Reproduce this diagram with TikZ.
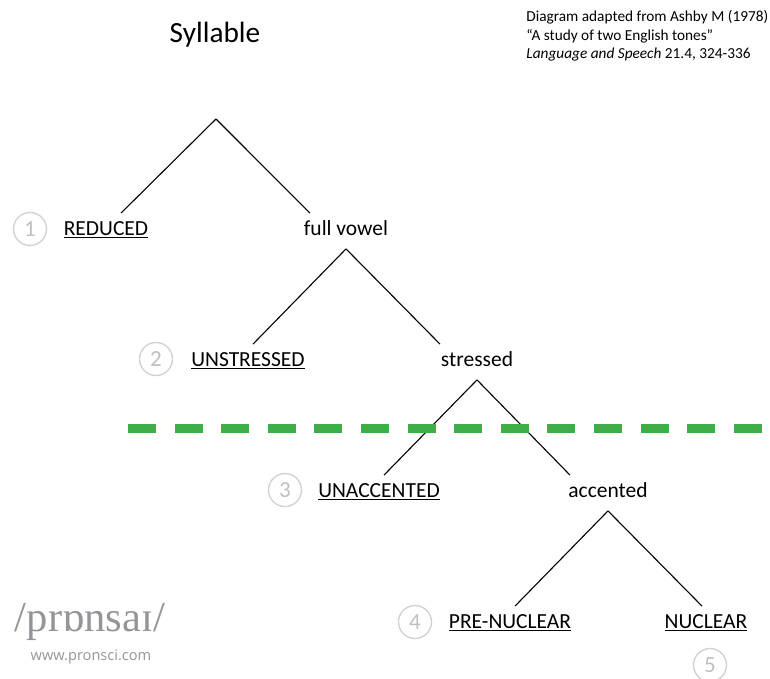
\documentclass[tikz,border=0pt]{standalone}
\usepackage{fontspec}
\setmainfont{Carlito}
\newfontfamily\logofont{Liberation Serif}
\newfontfamily\webfont{Open Sans}
\usetikzlibrary{positioning}
\definecolor{cutgreen}{HTML}{3FAE49}
\definecolor{logogray}{HTML}{939598}
\begin{document}
\begin{tikzpicture}[x=1pt, y=-1pt, node distance=16pt, thick]
\tikzstyle{term}=[font=\fontsize{21.5}{24}\selectfont, text height=14pt, text depth=5pt, inner xsep=0pt, inner ysep=8pt]
\tikzstyle{num}=[circle, draw=gray!35, line width=1.4pt, text=gray!50, font=\fontsize{23}{26}\selectfont, minimum size=33pt, inner sep=0pt]
\tikzstyle{branch}=[draw=black, line width=1.1pt]
\useasboundingbox (0,0) rectangle (770,679);
\node[font=\fontsize{29.3}{32}\selectfont] (title) at (215,35) {Syllable};
\node[font=\fontsize{15.3}{18.6}\selectfont, align=left, anchor=north west, inner sep=0pt] (source) at (526,10) {Diagram adapted from Ashby M (1978)\\``A study of two English tones''\\\textit{Language and Speech} 21.4, 324-336};
\coordinate (top) at (216,119);
\node[term] (reduced) at (106,231) {\underline{REDUCED}};
\node[term] (fullvowel) at (346,231) {full vowel};
\node[term] (unstressed) at (248,362) {\underline{UNSTRESSED}};
\node[term] (stressed) at (477,362) {stressed};
\node[term] (unaccented) at (379,493) {\underline{UNACCENTED}};
\node[term] (accented) at (608,493) {accented};
\node[term] (prenuclear) at (510,624) {\underline{PRE-NUCLEAR}};
\node[term] (nuclear) at (706,624) {\underline{NUCLEAR}};
\node[num] (one) at (30,229) {1};
\node[num] (two) at (156,359) {2};
\node[num] (three) at (285,490) {3};
\node[num] (four) at (415,622) {4};
\node[num] (five) at (710,665) {5};
\draw[branch] (top) -- ([xshift=15pt]reduced.north);
\draw[branch] (top) -- ([xshift=-36pt]fullvowel.north);
\draw[branch] (fullvowel.south) -- ([xshift=5pt]unstressed.north);
\draw[branch] (fullvowel.south) -- ([xshift=-37pt]stressed.north);
\draw[branch] (stressed.south) -- ([xshift=5pt]unaccented.north);
\draw[branch] (stressed.south) -- ([xshift=-38pt]accented.north);
\draw[branch] (accented.south) -- ([xshift=5pt]prenuclear.north);
\draw[branch] (accented.south) -- ([xshift=-4pt]nuclear.north);
\coordinate (cutl) at (128,428);
\coordinate (cutr) at (762,428);
\draw[cutgreen, line width=9pt, dash pattern=on 28pt off 18.6pt] (cutl) -- (cutr);
\node[font=\logofont\fontsize{42.6}{50}\selectfont, text=logogray, inner sep=0pt] (logo) at (90,622) {/prɒnsaɪ/};
\node[font=\webfont\fontsize{14.6}{16}\selectfont, text=logogray, inner sep=0pt] (web) at (91,657) {www.pronsci.com};
\end{tikzpicture}
\end{document}
